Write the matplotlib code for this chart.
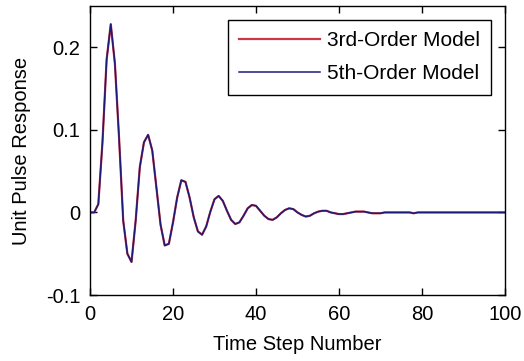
import numpy as np
import matplotlib.pyplot as plt

plt.rcParams['font.family'] = ['Liberation Sans', 'DejaVu Sans']

# unit pulse response samples, k = 0..100
steps = np.arange(0, 101)

response_5th = [
    0.000, 0.000, 0.010, 0.085, 0.185, 0.228, 0.180, 0.090, -0.010, -0.050,
    -0.060, -0.010, 0.055, 0.085, 0.094, 0.075, 0.030, -0.015, -0.040, -0.038,
    -0.012, 0.018, 0.039, 0.037, 0.018, -0.006, -0.023, -0.027, -0.017, 0.001,
    0.016, 0.020, 0.014, 0.002, -0.009, -0.014, -0.012, -0.004, 0.005, 0.009,
    0.008, 0.002, -0.004, -0.008, -0.009, -0.006, -0.001, 0.003, 0.005, 0.004,
    0.000, -0.003, -0.005, -0.004, -0.001, 0.001, 0.002, 0.002, 0.000, -0.001,
    -0.002, -0.002, -0.001, 0.000, 0.001, 0.001, 0.001, 0.000, -0.001, -0.001,
    -0.001, 0.000, 0.000, 0.000, 0.000, 0.000, 0.000, 0.000, -0.001, 0.000,
    0.000, 0.000, 0.000, 0.000, 0.000, 0.000, 0.000, 0.000, 0.000, 0.000,
    0.000, 0.000, 0.000, 0.000, 0.000, 0.000, 0.000, 0.000, 0.000, 0.000,
    0.000,
]
response_3rd = list(response_5th)

x_ticks = [0, 20, 40, 60, 80, 100]
y_ticks = [-0.1, 0, 0.1, 0.2]
y_tick_labels = ['-0.1', '0', '0.1', '0.2']

fig = plt.figure(figsize=(5.24, 3.61), dpi=100)
ax = fig.add_axes([0.1718, 0.1828, 0.7919, 0.8006])

ax.plot(steps, response_3rd, color='#c83848', linewidth=1.6, label='3rd-Order Model')
ax.plot(steps, response_5th, color='#1c1c78', linewidth=1.1, label='5th-Order Model')

ax.set_xlim(0, 100)
ax.set_ylim(-0.1, 0.25)
ax.set_xticks(x_ticks)
ax.set_yticks(y_ticks)
ax.set_yticklabels(y_tick_labels)
ax.tick_params(direction='in', length=5, width=1, top=True, right=True,
               labelsize=14.5, pad=7)
for s in ax.spines.values():
    s.set_linewidth(1.0)

ax.set_xlabel('Time Step Number', fontsize=14.5, labelpad=8)
ax.set_ylabel('Unit Pulse Response', fontsize=14.5, labelpad=11)

leg = ax.legend(loc='upper right', fontsize=15, handlelength=3.85,
                handletextpad=0.35, fancybox=False, framealpha=1,
                edgecolor='black', borderaxespad=0.65, labelspacing=0.68,
                borderpad=0.55)
leg.get_frame().set_linewidth(1.0)

plt.savefig('out.png', dpi=100)
